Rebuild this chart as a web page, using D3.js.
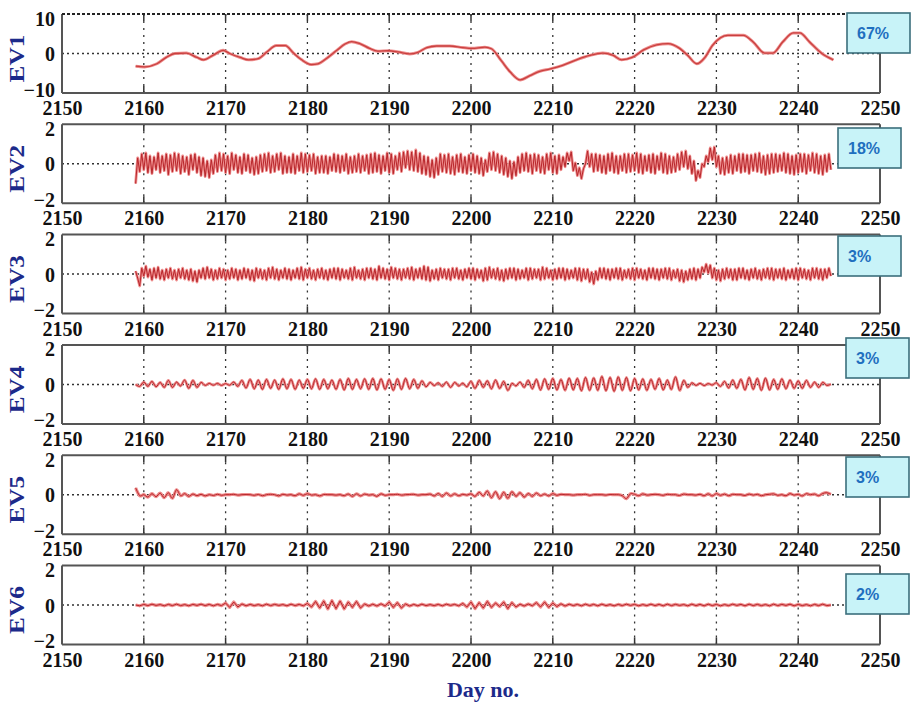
<!DOCTYPE html>
<html><head><meta charset="utf-8">
<script src="https://cdn.jsdelivr.net/npm/d3@7"></script>
<style>body{margin:0;background:#fff}</style>
</head><body>
<svg id="chart" width="915" height="705"></svg>
<script>
// ---------- DATA ----------
const panelNames = ["EV1", "EV2", "EV3", "EV4", "EV5", "EV6"];
const percentLabels = ["67%", "18%", "3%", "3%", "3%", "2%"];
const xTicks = [2150, 2160, 2170, 2180, 2190, 2200, 2210, 2220, 2230, 2240, 2250];
const gridDays = [2160, 2170, 2180, 2190, 2200, 2210, 2220, 2230, 2240];
const yTicksEV1 = [-10, 0, 10];
const yTicksSmall = [-2, 0, 2];
const xAxisTitle = "Day no.";

const ev1Days = [2159.0,2160.1,2161.6,2162.8,2163.8,2165.2,2166.5,2167.3,2168.5,2169.7,2170.5,2171.8,2172.8,2174.0,2175.0,2176.2,2177.3,2178.3,2179.3,2180.5,2181.3,2182.5,2183.6,2184.6,2185.4,2186.4,2187.6,2188.6,2189.9,2191.1,2192.5,2193.5,2194.6,2195.8,2197.4,2199.0,2200.1,2201.7,2202.5,2203.7,2204.8,2206.0,2207.2,2208.4,2209.7,2211.2,2212.9,2214.5,2216.1,2217.4,2218.4,2219.7,2221.1,2222.7,2224.1,2225.5,2226.5,2227.6,2228.6,2229.5,2230.5,2231.4,2233.3,2234.5,2235.9,2236.9,2238.1,2239.4,2240.2,2241.4,2242.9,2244.3];
const ev1Values = [-3.2,-3.4,-2.6,-0.9,0.0,0.1,-1.0,-1.6,-0.4,0.8,0.0,-1.0,-1.6,-1.3,0.3,2.0,2.0,0.1,-1.6,-2.8,-2.6,-1.0,0.8,2.4,3.0,2.5,1.3,0.6,0.7,0.4,-0.1,0.3,1.5,1.9,1.9,1.5,1.3,1.6,1.2,-1.8,-4.7,-6.7,-5.6,-4.5,-3.9,-3.0,-1.6,-0.5,0.1,-0.5,-1.6,-1.0,0.9,2.2,2.5,1.3,-0.5,-2.6,-1.0,2.0,4.0,4.6,4.6,2.9,0.1,0.1,2.9,5.2,5.2,2.9,0.0,-1.6];

const sampleStart = 2159;
const ev2Step = 0.25;
const ev2Values = [
-1.0,0.3,-0.4,0.5, -0.3,0.55,-0.45,0.4, -0.5,0.35,-0.3,0.55, -0.45,0.4,-0.35,0.5, -0.55,0.45,-0.4,0.55,
-0.35,0.5,-0.5,0.4, -0.4,0.35,-0.55,0.45, -0.3,0.5,-0.45,0.35, -0.6,0.3,-0.65,0.15, -0.7,0.2,-0.5,0.45,
-0.4,0.55,-0.35,0.5, -0.45,0.4,-0.5,0.55, -0.3,0.45,-0.45,0.35, -0.5,0.5,-0.35,0.45, -0.45,0.3,-0.55,0.35,
-0.5,0.45,-0.4,0.5, -0.35,0.55,-0.45,0.4, -0.4,0.5,-0.3,0.55, -0.5,0.4,-0.45,0.35, -0.45,0.5,-0.5,0.4,
-0.35,0.55,-0.45,0.5, -0.4,0.45,-0.35,0.5, -0.5,0.35,-0.45,0.4, -0.45,0.4,-0.5,0.35, -0.35,0.5,-0.4,0.45,
-0.45,0.4,-0.35,0.5, -0.5,0.35,-0.45,0.4, -0.4,0.5,-0.45,0.4, -0.35,0.45,-0.5,0.5, -0.45,0.55,-0.4,0.45,
-0.5,0.4,-0.35,0.55, -0.45,0.5,-0.5,0.4, -0.3,0.55,-0.4,0.6, -0.2,0.65,-0.3,0.6, -0.35,0.7,-0.4,0.55,
-0.5,0.4,-0.55,0.35, -0.65,0.2,-0.7,0.3, -0.55,0.5,-0.4,0.45, -0.45,0.5,-0.5,0.35, -0.55,0.45,-0.4,0.5,
-0.45,0.35,-0.5,0.45, -0.35,0.5,-0.45,0.4, -0.5,0.3,-0.6,0.2, -0.4,0.55,-0.3,0.6, -0.35,0.5,-0.45,0.4,
-0.55,0.3,-0.65,0.15, -0.75,0.1,-0.6,0.35, -0.45,0.5,-0.35,0.55, -0.4,0.45,-0.5,0.5, -0.35,0.45,-0.45,0.35,
-0.5,0.5,-0.3,0.55, -0.45,0.4,-0.5,0.45, -0.3,0.35,-0.15,0.55, 0.15,0.6,-0.35,0.05, -0.6,-0.2,-0.75,-0.25,
0.0,0.65,-0.15,0.5, -0.4,0.5,-0.35,0.45, -0.45,0.4,-0.5,0.5, -0.35,0.55,-0.45,0.4, -0.5,0.4,-0.35,0.5,
-0.45,0.5,-0.4,0.45, -0.35,0.55,-0.45,0.5, -0.5,0.4,-0.35,0.45, -0.45,0.5,-0.5,0.4, -0.3,0.55,-0.45,0.5,
-0.5,0.4,-0.45,0.35, -0.4,0.5,-0.3,0.6, -0.15,0.65,-0.25,0.4, -0.5,0.15,-0.85,-0.35, -0.7,0.0,-0.15,0.4,
0.1,0.8,0.2,0.85, -0.15,0.4,-0.5,0.3, -0.55,0.35,-0.45,0.45, -0.5,0.4,-0.35,0.5, -0.45,0.5,-0.4,0.45,
-0.5,0.45,-0.35,0.5, -0.4,0.55,-0.45,0.4, -0.55,0.45,-0.5,0.5, -0.45,0.5,-0.4,0.45, -0.35,0.55,-0.45,0.5,
-0.5,0.4,-0.55,0.45, -0.45,0.5,-0.4,0.5, -0.5,0.45,-0.35,0.55, -0.45,0.5,-0.5,0.4, -0.55,0.45,-0.4,0.5,
-0.3];

const ev3Step = 0.25;
const ev3Values = [
0.15,-0.2,-0.6,0.3, -0.1,0.4,-0.15,0.25, -0.3,0.3,-0.2,0.35, -0.25,0.2,-0.3,0.25, -0.2,0.3,-0.25,0.2,
-0.3,0.25,-0.2,0.3, -0.25,0.2,-0.3,0.25, -0.35,0.15,-0.4,0.2, -0.2,0.3,-0.25,0.35, -0.2,0.25,-0.3,0.2,
-0.25,0.3,-0.2,0.25, -0.3,0.2,-0.25,0.3, -0.2,0.25,-0.3,0.2, -0.25,0.3,-0.2,0.25, -0.3,0.2,-0.35,0.3,
-0.2,0.25,-0.25,0.2, -0.3,0.3,-0.2,0.35, -0.25,0.25,-0.3,0.2, -0.2,0.3,-0.25,0.25, -0.3,0.2,-0.2,0.3,
-0.25,0.35,-0.3,0.25, -0.2,0.3,-0.25,0.2, -0.3,0.25,-0.2,0.3, -0.25,0.2,-0.3,0.25, -0.2,0.3,-0.25,0.3,
-0.3,0.25,-0.2,0.2, -0.25,0.3,-0.3,0.35, -0.2,0.2,-0.25,0.25, -0.3,0.3,-0.2,0.3, -0.25,0.25,-0.3,0.4,
-0.2,0.3,-0.25,0.25, -0.3,0.35,-0.2,0.3, -0.25,0.25,-0.3,0.25, -0.2,0.3,-0.25,0.35, -0.3,0.25,-0.2,0.3,
-0.25,0.4,-0.3,0.35, -0.35,0.2,-0.25,0.25, -0.3,0.3,-0.2,0.25, -0.25,0.25,-0.3,0.3, -0.2,0.3,-0.25,0.2,
-0.3,0.25,-0.2,0.3, -0.25,0.3,-0.3,0.25, -0.2,0.2,-0.35,0.3, -0.3,0.35,-0.2,0.25, -0.25,0.3,-0.3,0.2,
-0.35,0.25,-0.25,0.3, -0.2,0.3,-0.3,0.25, -0.25,0.2,-0.2,0.3, -0.3,0.3,-0.25,0.25, -0.2,0.25,-0.3,0.35,
-0.25,0.3,-0.2,0.2, -0.3,0.25,-0.25,0.3, -0.2,0.3,-0.3,0.25, -0.25,0.2,-0.2,0.3, -0.3,0.3,-0.35,0.25,
-0.25,0.25,-0.4,0.1, -0.5,0.15,-0.3,0.3, -0.2,0.3,-0.25,0.25, -0.3,0.25,-0.2,0.3, -0.25,0.3,-0.3,0.2,
-0.2,0.25,-0.25,0.3, -0.3,0.3,-0.2,0.25, -0.25,0.2,-0.3,0.3, -0.2,0.3,-0.25,0.25, -0.3,0.25,-0.2,0.3,
-0.25,0.3,-0.3,0.2, -0.2,0.25,-0.35,0.2, -0.4,0.15,-0.3,0.25, -0.25,0.3,-0.3,0.25, -0.2,0.35,0.1,0.5,
0.05,0.45,-0.2,0.3, -0.3,0.2,-0.35,0.25, -0.25,0.3,-0.2,0.25, -0.3,0.25,-0.3,0.3, -0.2,0.3,-0.25,0.2,
-0.3,0.25,-0.2,0.3, -0.25,0.2,-0.3,0.25, -0.2,0.3,-0.25,0.3, -0.3,0.25,-0.2,0.25, -0.25,0.3,-0.3,0.2,
-0.2,0.25,-0.25,0.3, -0.3,0.3,-0.2,0.25, -0.25,0.2,-0.3,0.3, -0.2,0.3,-0.25,0.25, -0.3,0.25,-0.2,0.3,
-0.1];

const ev4Step = 0.5;
const ev4Values = [
0.0,-0.1, 0.12,-0.1, 0.15,-0.12, 0.1,-0.15, 0.2,-0.15, 0.12,-0.08, 0.22,-0.2, 0.2,-0.15, 0.1,-0.05, 0.05,-0.04,
0.05,-0.05, 0.04,-0.04, 0.12,-0.1, 0.2,-0.18, 0.25,-0.22, 0.22,-0.25, 0.25,-0.2, 0.22,-0.25, 0.28,-0.22, 0.25,-0.25,
0.22,-0.2, 0.25,-0.22, 0.28,-0.25, 0.25,-0.22, 0.22,-0.25, 0.25,-0.28, 0.3,-0.25, 0.25,-0.22, 0.28,-0.25, 0.3,-0.28,
0.28,-0.25, 0.25,-0.3, 0.28,-0.25, 0.3,-0.22, 0.25,-0.2, 0.18,-0.12, 0.1,-0.06, 0.08,-0.1, 0.12,-0.15, 0.1,-0.08,
0.06,-0.12, 0.15,-0.2, 0.2,-0.15, 0.18,-0.22, 0.22,-0.2, 0.15,-0.3, 0.05,-0.08, 0.12,-0.15, 0.2,-0.22, 0.25,-0.28,
0.28,-0.25, 0.3,-0.28, 0.25,-0.3, 0.32,-0.28, 0.3,-0.32, 0.35,-0.3, 0.33,-0.3, 0.4,-0.32, 0.35,-0.35, 0.38,-0.3,
0.35,-0.32, 0.3,-0.28, 0.28,-0.3, 0.25,-0.25, 0.3,-0.28, 0.22,-0.25, 0.38,-0.3, 0.2,-0.15, 0.08,-0.05, 0.05,-0.06,
0.04,-0.03, 0.08,-0.1, 0.15,-0.18, 0.22,-0.2, 0.25,-0.28, 0.35,-0.25, 0.3,-0.3, 0.32,-0.28, 0.25,-0.25, 0.28,-0.22,
0.22,-0.2, 0.18,-0.2, 0.2,-0.15, 0.12,-0.15, 0.1,-0.05, 0.02];

const ev5Step = 0.5;
const ev5Values = [
0.35,-0.05, 0.0,-0.12, 0.05,-0.1, 0.08,-0.15, 0.1,-0.18, 0.25,-0.05, 0.05,-0.08, 0.03,-0.05, 0.02,-0.06, 0.0,-0.04,
0.02,-0.03, 0.0,0.0, 0.02,-0.02, 0.0,0.01, 0.0,-0.03, 0.01,-0.05, 0.0,0.02, 0.0,-0.06, 0.02,-0.02, 0.0,-0.05,
0.04,-0.03, 0.05,-0.02, 0.0,-0.06, 0.01,0.0, 0.0,-0.02, 0.0,-0.05, 0.03,-0.08, 0.04,-0.06, 0.03,-0.02, 0.0,-0.08,
0.04,-0.03, 0.0,0.0, 0.02,-0.02, 0.0,0.01, 0.02,-0.02, 0.0,0.0, 0.03,-0.06, 0.06,-0.08, 0.08,-0.06, 0.04,-0.05,
0.02,-0.02, 0.04,-0.08, 0.12,-0.06, 0.18,-0.15, 0.15,-0.2, 0.12,-0.18, 0.15,-0.08, 0.1,-0.12, 0.06,-0.08, 0.08,-0.05,
0.03,-0.06, 0.05,-0.03, 0.02,0.0, 0.0,-0.02, 0.0,0.0, 0.02,-0.03, 0.0,0.0, 0.0,-0.02, 0.01,0.0, 0.0,-0.05,
-0.2,0.05, 0.02,-0.05, 0.04,-0.02, 0.0,0.02, 0.0,-0.03, 0.02,0.0, 0.0,-0.04, 0.03,0.0, 0.0,-0.02, 0.02,-0.05,
0.04,-0.06, 0.05,-0.03, 0.03,-0.05, 0.02,0.0, 0.0,-0.04, 0.03,-0.02, 0.02,-0.05, 0.0,0.02, 0.04,-0.03, 0.0,-0.05,
0.05,-0.02, 0.02,-0.06, 0.05,0.0, 0.03,-0.05, 0.06,0.1, 0.02];

const ev6Step = 0.5;
const ev6Values = [
0.0,-0.04, 0.03,-0.03, 0.04,-0.02, 0.02,-0.04, 0.03,-0.03, 0.04,-0.03, 0.02,-0.04, 0.03,-0.02, 0.04,-0.03, 0.03,-0.04,
0.03,-0.03, 0.1,-0.12, 0.15,-0.1, 0.05,-0.04, 0.03,-0.03, 0.02,-0.04, 0.04,-0.03, 0.03,-0.02, 0.02,-0.04, 0.04,-0.03,
0.03,-0.04, 0.08,-0.1, 0.18,-0.15, 0.2,-0.2, 0.22,-0.18, 0.2,-0.2, 0.15,-0.12, 0.18,-0.15, 0.05,-0.05, 0.04,-0.05,
0.06,-0.05, 0.15,-0.12, 0.12,-0.15, 0.05,-0.05, 0.03,-0.04, 0.04,-0.03, 0.02,-0.03, 0.03,-0.04, 0.04,-0.02, 0.03,-0.04,
0.08,-0.1, 0.15,-0.18, 0.12,-0.15, 0.18,-0.12, 0.1,-0.08, 0.15,-0.18, 0.12,-0.1, 0.04,-0.05, 0.05,-0.04, 0.12,-0.1,
0.15,-0.12, 0.1,-0.08, 0.06,-0.05, 0.04,-0.03, 0.03,-0.04, 0.04,-0.03, 0.03,-0.04, 0.04,-0.03, 0.02,-0.04, 0.03,-0.03,
0.04,-0.02, 0.03,-0.04, 0.02,-0.03, 0.04,-0.03, 0.03,-0.04, 0.04,-0.03, 0.03,-0.02, 0.02,-0.04, 0.04,-0.03, 0.03,-0.04,
0.04,-0.03, 0.03,-0.04, 0.02,-0.03, 0.04,-0.02, 0.03,-0.04, 0.04,-0.03, 0.03,-0.03, 0.02,-0.04, 0.04,-0.03, 0.03,-0.02,
0.04,-0.04, 0.03,-0.03, 0.02,-0.04, 0.03,-0.03, 0.04,-0.03, 0.0];

// ---------- LAYOUT ----------
const W = 915, H = 705;
const plotLeft = 62, plotRight = 880, panelTop0 = 14, panelGap = 110.3, panelH = 79;
const boxPos = [[847,13],[838,128],[838,236],[846,338],[846,457],[846,574]];
const boxW = 63, boxH = 40;
const serif = "'Liberation Serif','Times New Roman',serif";
const sans = "'Liberation Sans',Arial,sans-serif";
const navy = "#1c2a8a";

function sampled(values, step) {
  return values.map((v, i) => ({ x: sampleStart + i * step, y: v }));
}
const seriesList = [
  { pts: ev1Days.map((d, i) => ({ x: d, y: ev1Values[i] })), curve: d3.curveMonotoneX, ticks: yTicksEV1, dom: [-10, 10] },
  { pts: sampled(ev2Values, ev2Step), curve: d3.curveLinear, ticks: yTicksSmall, dom: [-2, 2] },
  { pts: sampled(ev3Values, ev3Step), curve: d3.curveLinear, ticks: yTicksSmall, dom: [-2, 2] },
  { pts: sampled(ev4Values, ev4Step), curve: d3.curveCardinal, ticks: yTicksSmall, dom: [-2, 2] },
  { pts: sampled(ev5Values, ev5Step), curve: d3.curveCardinal, ticks: yTicksSmall, dom: [-2, 2] },
  { pts: sampled(ev6Values, ev6Step), curve: d3.curveLinear, ticks: yTicksSmall, dom: [-2, 2] }
];

const svg = d3.select("#chart");
svg.append("rect").attr("width", W).attr("height", H).attr("fill", "#fff");

const x = d3.scaleLinear().domain([2150, 2250]).range([plotLeft, plotRight]);

seriesList.forEach((s, i) => {
  const top = panelTop0 + i * panelGap;
  const bottom = top + panelH;
  const y = d3.scaleLinear().domain(s.dom).range([bottom, top]);
  const g = svg.append("g");

  gridDays.forEach(d => {
    g.append("line").attr("x1", x(d)).attr("x2", x(d)).attr("y1", top).attr("y2", bottom)
      .attr("stroke", "#333").attr("stroke-width", 1.3).attr("stroke-dasharray", "2,5");
    g.append("line").attr("x1", x(d)).attr("x2", x(d)).attr("y1", top).attr("y2", top + 7)
      .attr("stroke", "#333").attr("stroke-width", 1.5);
    g.append("line").attr("x1", x(d)).attr("x2", x(d)).attr("y1", bottom - 7).attr("y2", bottom)
      .attr("stroke", "#333").attr("stroke-width", 1.5);
  });
  g.append("line").attr("x1", plotLeft).attr("x2", plotRight).attr("y1", y(0)).attr("y2", y(0))
    .attr("stroke", "#333").attr("stroke-width", 1.5).attr("stroke-dasharray", "2,3");

  const fc = "#555";
  g.append("line").attr("x1", plotLeft).attr("x2", plotLeft).attr("y1", top).attr("y2", bottom).attr("stroke", fc).attr("stroke-width", 2);
  g.append("line").attr("x1", plotRight).attr("x2", plotRight).attr("y1", top).attr("y2", bottom).attr("stroke", fc).attr("stroke-width", 2);
  g.append("line").attr("x1", plotLeft).attr("x2", plotRight).attr("y1", bottom).attr("y2", bottom).attr("stroke", fc).attr("stroke-width", 2);
  if (i === 0) {
    g.append("line").attr("x1", plotLeft).attr("x2", plotRight).attr("y1", top).attr("y2", top)
      .attr("stroke", "#222").attr("stroke-width", 2).attr("stroke-dasharray", "3,2");
  } else {
    g.append("line").attr("x1", plotLeft).attr("x2", plotRight).attr("y1", top).attr("y2", top).attr("stroke", fc).attr("stroke-width", 2);
  }

  const line = d3.line().x(d => x(d.x)).y(d => y(d.y)).curve(s.curve);
  g.append("path").datum(s.pts).attr("d", line).attr("fill", "none")
    .attr("stroke", "#ee8d8d").attr("stroke-width", i === 0 ? 3 : (i >= 4 ? 3.2 : 2.8)).attr("stroke-linejoin", "round");
  g.append("path").datum(s.pts).attr("d", line).attr("fill", "none")
    .attr("stroke", i === 0 ? "#c9403f" : "#b8262b").attr("stroke-width", i === 0 ? 1.3 : 1).attr("stroke-linejoin", "round");

  const xa = g.append("g").attr("transform", `translate(0,${bottom})`)
    .call(d3.axisBottom(x).tickValues(xTicks).tickSize(0).tickPadding(8).tickFormat(d3.format("d")));
  xa.select(".domain").remove();
  xa.selectAll("text").attr("font-family", serif).attr("font-weight", "bold")
    .attr("font-size", 20).attr("fill", "#111");

  const ya = g.append("g").attr("transform", `translate(${plotLeft},0)`)
    .call(d3.axisLeft(y).tickValues(s.ticks).tickSize(0).tickPadding(7).tickFormat(d3.format("d")));
  ya.select(".domain").remove();
  ya.selectAll("text").attr("font-family", serif).attr("font-weight", "bold")
    .attr("font-size", 20).attr("fill", "#111")
    .attr("dy", d => d === s.dom[1] ? "0.55em" : (d === s.dom[0] ? "0.15em" : "0.35em"));

  svg.append("text").attr("transform", `translate(24,${(top + bottom) / 2 + 5}) scale(1,1.15) rotate(-90)`)
    .attr("text-anchor", "middle").attr("font-family", serif).attr("font-weight", "bold")
    .attr("font-size", 22).attr("fill", navy).text(panelNames[i]);

  const [bx, by] = boxPos[i];
  svg.append("rect").attr("x", bx).attr("y", by).attr("width", boxW).attr("height", boxH)
    .attr("fill", "#c8f3f8").attr("stroke", "#3b6f7c").attr("stroke-width", 1.6);
  svg.append("text").attr("x", bx + 10).attr("y", by + boxH / 2 + 6)
    .attr("font-family", sans).attr("font-weight", "bold").attr("font-size", 16)
    .attr("fill", "#1f6fbf").text(percentLabels[i]);
});

svg.append("text").attr("x", 483).attr("y", 697).attr("text-anchor", "middle")
  .attr("font-family", serif).attr("font-weight", "bold").attr("font-size", 22)
  .attr("fill", navy).text(xAxisTitle);
</script>
</body></html>
